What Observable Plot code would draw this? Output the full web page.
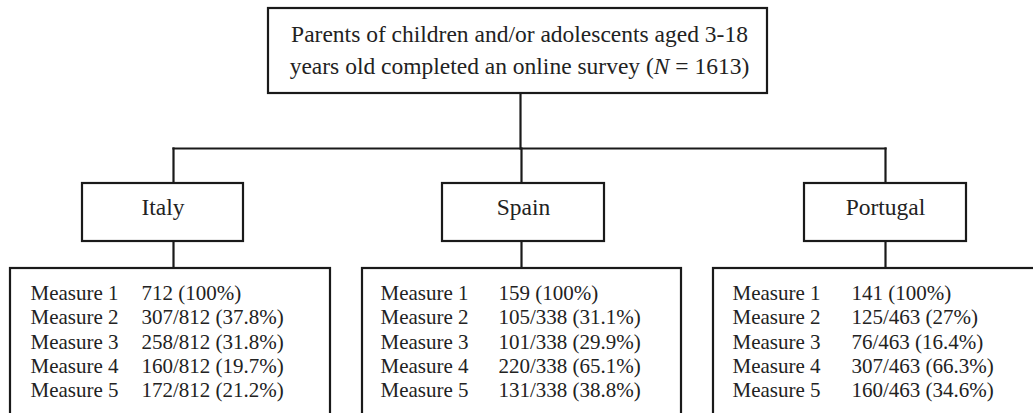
<!DOCTYPE html>
<html>
<head>
<meta charset="utf-8">
<script src="https://cdn.jsdelivr.net/npm/d3@7"></script>
<script src="https://cdn.jsdelivr.net/npm/@observablehq/plot@0.6"></script>
<style>
  html, body { margin: 0; padding: 0; background: #fff; overflow: hidden; }
  svg { display: block; }
</style>
</head>
<body>
<div id="chart"></div>
<script>
// ---- Data ----
const titleLines = ["Parents of children and/or adolescents aged 3-18", "years old completed an online survey (N = 1613)"];
const countries = ["Italy", "Spain", "Portugal"];
const measures = ["Measure 1", "Measure 2", "Measure 3", "Measure 4", "Measure 5"];
const italyCounts = [712, 307, 258, 160, 172];
const italyTotals = [null, 812, 812, 812, 812];
const italyPct = [100, 37.8, 31.8, 19.7, 21.2];
const spainCounts = [159, 105, 101, 220, 131];
const spainTotals = [null, 338, 338, 338, 338];
const spainPct = [100, 31.1, 29.9, 65.1, 38.8];
const portugalCounts = [141, 125, 76, 307, 160];
const portugalTotals = [null, 463, 463, 463, 463];
const portugalPct = [100, 27, 16.4, 66.3, 34.6];

// ---- Layout (positions in pixels) ----
const W = 1033, H = 413;
const topBox = {x1: 268, x2: 767, y1: 8, y2: 93, cx: 520};
const busY = 148;
const connX = [173, 521, 885];
const countryBoxes = [{x1: 82, x2: 243}, {x1: 442, x2: 604}, {x1: 804, x2: 966}];
const countryY1 = 183, countryY2 = 241;
const detailBoxes = [{x1: 10, x2: 330}, {x1: 362, x2: 681}, {x1: 713, x2: 1045}];
const detailY1 = 268, detailY2 = 425;
const labelX = [30, 380, 732];
const valueX = [141, 498, 851];
const rowY0 = 292.5, rowStep = 24.4;
const font = "'Liberation Serif', 'Times New Roman', serif";
const fs = 21, fsBig = 23.5;

const series = [
  {counts: italyCounts, totals: italyTotals, pct: italyPct},
  {counts: spainCounts, totals: spainTotals, pct: spainPct},
  {counts: portugalCounts, totals: portugalTotals, pct: portugalPct}
];

const fmt = (c, t, p) => (t == null ? `${c}` : `${c}/${t}`) + ` (${p}%)`;

const boxes = [
  {...topBox},
  ...countryBoxes.map(b => ({...b, y1: countryY1, y2: countryY2})),
  ...detailBoxes.map(b => ({...b, y1: detailY1, y2: detailY2}))
];

const segments = [
  {x1: topBox.cx, x2: topBox.cx, y1: topBox.y2, y2: busY},
  {x1: connX[0], x2: connX[2], y1: busY, y2: busY},
  ...connX.map(x => ({x1: x, x2: x, y1: busY, y2: countryY1})),
  ...connX.map(x => ({x1: x, x2: x, y1: countryY2, y2: detailY1}))
];

const titleRows = titleLines.map((t, i) => ({text: t, x: topBox.cx - 1, y: 34.2 + i * 31.6}));
const countryRows = countries.map((c, i) => ({text: c, x: (countryBoxes[i].x1 + countryBoxes[i].x2) / 2, y: 206.8}));
const measureRows = [];
series.forEach((s, j) => {
  measures.forEach((m, i) => {
    measureRows.push({text: m, x: labelX[j], y: rowY0 + i * rowStep});
    measureRows.push({text: fmt(s.counts[i], s.totals[i], s.pct[i]), x: valueX[j], y: rowY0 + i * rowStep});
  });
});

const plot = Plot.plot({
  width: W,
  height: H,
  margin: 0,
  x: {domain: [0, W], range: [0, W], axis: null},
  y: {domain: [0, H], range: [0, H], axis: null},
  style: {fontFamily: font, background: "white", overflow: "hidden"},
  marks: [
    Plot.link(segments, {x1: "x1", x2: "x2", y1: "y1", y2: "y2", stroke: "#1a1a1a", strokeWidth: 2.2, strokeLinecap: "square"}),
    Plot.rect(boxes, {x1: "x1", x2: "x2", y1: "y1", y2: "y2", fill: "white", stroke: "#1a1a1a", strokeWidth: 2.2}),
    Plot.text(titleRows, {x: "x", y: "y", text: "text", fontSize: fsBig, fill: "#222"}),
    Plot.text(countryRows, {x: "x", y: "y", text: "text", fontSize: fsBig, fill: "#222"}),
    Plot.text(measureRows, {x: "x", y: "y", text: "text", fontSize: fs, fill: "#222", textAnchor: "start"})
  ]
});

// italicise N in the title
d3.select(plot).selectAll("text").each(function() {
  const el = d3.select(this);
  const t = el.text();
  if (t.includes("(N = ")) {
    const parts = t.split("N");
    el.text(null);
    el.append("tspan").text(parts[0]);
    el.append("tspan").attr("font-style", "italic").text("N");
    el.append("tspan").text(parts.slice(1).join("N"));
  }
});

document.getElementById("chart").appendChild(plot);
</script>
</body>
</html>
